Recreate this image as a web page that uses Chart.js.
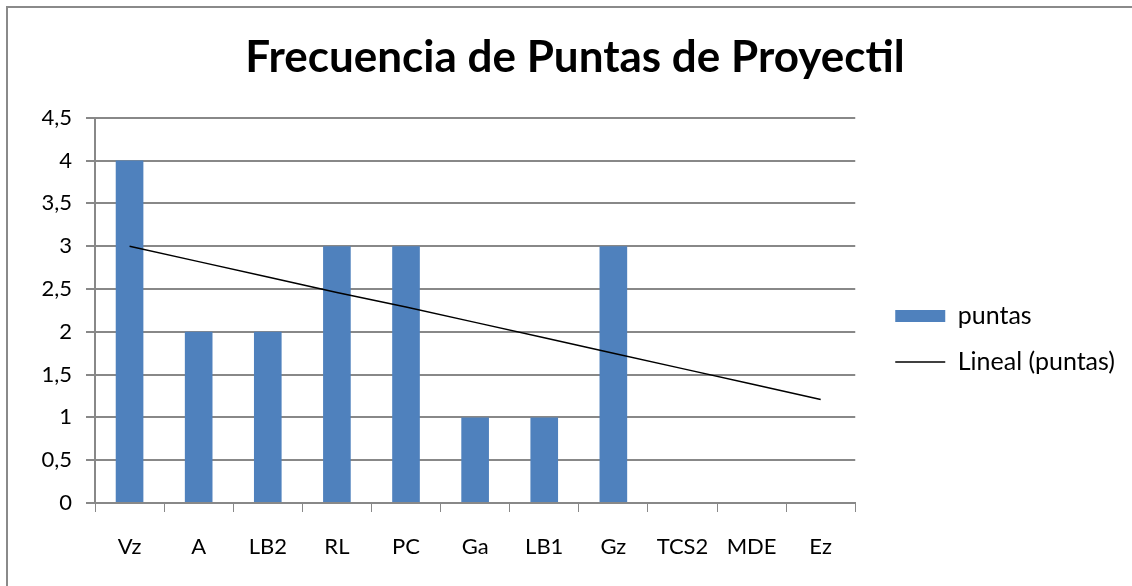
<!DOCTYPE html>
<html>
<head>
<meta charset="utf-8">
<script src="https://cdn.jsdelivr.net/npm/chart.js@4.4.1/dist/chart.umd.min.js"></script>
<style>
  html, body { margin: 0; padding: 0; background: #fff; }
  #wrap { position: relative; width: 1132px; height: 586px; }
</style>
</head>
<body>
<div id="wrap"><canvas id="grafico" width="1132" height="586"></canvas></div>
<script>
// tipos de punta y cantidad encontrada
const categorias = ['Vz', 'A', 'LB2', 'RL', 'PC', 'Ga', 'LB1', 'Gz', 'TCS2', 'MDE', 'Ez'];
const puntas = [4, 2, 2, 3, 3, 1, 1, 3, 0, 0, 0];
// línea de tendencia lineal
const lineal = [3.0, 2.82, 2.64, 2.46, 2.29, 2.11, 1.93, 1.75, 1.57, 1.39, 1.21];

const azul = '#4f81bd';
const gris = '#888888';
const fuente = 'Lato, "Open Sans", sans-serif';

// marco del gráfico (borde izquierdo y superior)
const marco = {
  id: 'marco',
  beforeDraw(chart) {
    const ctx = chart.ctx;
    ctx.save();
    ctx.fillStyle = '#8a8a8a';
    ctx.fillRect(6, 6, 2, chart.height);
    ctx.fillRect(6, 6, chart.width, 2);
    ctx.restore();
  }
};

const chart = new Chart(document.getElementById('grafico'), {
  data: {
    labels: categorias,
    datasets: [
      {
        type: 'line',
        label: 'Lineal (puntas)',
        data: lineal,
        borderColor: '#000',
        borderWidth: 1.5,
        pointRadius: 0,
        tension: 0,
        fill: false,
        order: 0
      },
      {
        type: 'bar',
        label: 'puntas',
        data: puntas,
        backgroundColor: azul,
        categoryPercentage: 1,
        barPercentage: 0.4,
        order: 1
      }
    ]
  },
  plugins: [marco],
  options: {
    responsive: false,
    animation: false,
    layout: { padding: { left: 24, right: 6, top: 0, bottom: 0 } },
    plugins: {
      tooltip: { enabled: false },
      title: {
        display: true,
        text: 'Frecuencia de Puntas de Proyectil',
        color: '#000',
        font: { family: fuente, size: 44, weight: 'bold' },
        padding: { top: 31, bottom: 34 }
      },
      legend: {
        position: 'right',
        labels: {
          color: '#000',
          font: { family: fuente, size: 25 },
          usePointStyle: true,
          pointStyleWidth: 50,
          boxHeight: 12,
          padding: 21,
          generateLabels: () => [
            { text: 'puntas', fillStyle: azul, strokeStyle: azul, lineWidth: 0, pointStyle: 'rect', datasetIndex: 1, fontColor: '#000' },
            { text: 'Lineal (puntas)', fillStyle: '#000', strokeStyle: '#000', lineWidth: 1.5, pointStyle: 'line', datasetIndex: 0, fontColor: '#000' }
          ]
        }
      }
    },
    scales: {
      x: {
        grid: { drawOnChartArea: false, drawTicks: true, tickLength: 9, color: gris, offset: true },
        border: { color: gris, width: 2 },
        ticks: { color: '#000', font: { family: fuente, size: 22 }, padding: 22, maxRotation: 0 },
        afterFit(scale) { scale.height = 83; }
      },
      y: {
        min: 0,
        max: 4.5,
        grid: { color: gris, lineWidth: 2, tickLength: 9 },
        border: { color: gris, width: 2 },
        ticks: {
          stepSize: 0.5,
          color: '#000',
          font: { family: fuente, size: 22 },
          padding: 14,
          callback: v => String(v).replace('.', ',')
        },
        afterFit(scale) { scale.width = 95 - 24; }
      }
    }
  }
});

// más aire entre el área del gráfico y la leyenda, y leyenda algo más abajo
const fitLeyenda = chart.legend.fit;
chart.legend.fit = function () {
  fitLeyenda.call(this);
  this.width += 20;
};
const dibujarLeyenda = chart.legend.draw;
chart.legend.draw = function () {
  this.ctx.save();
  this.ctx.translate(19, 46);
  dibujarLeyenda.call(this);
  this.ctx.restore();
};
chart.update();
</script>
</body>
</html>
